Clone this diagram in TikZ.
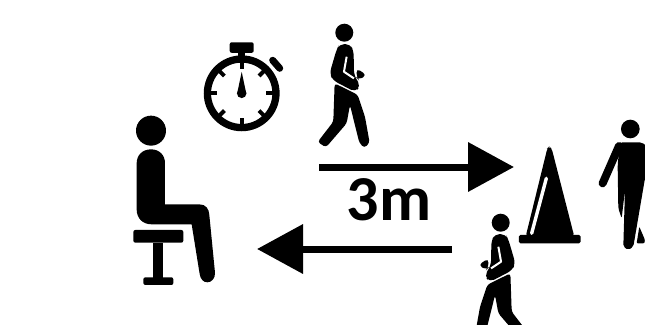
\documentclass[tikz,border=0pt]{standalone}
\usepackage{fontspec}
\setmainfont{Carlito}
\usepackage{tikz}
\usetikzlibrary{arrows.meta,positioning}
\tikzset{
  walker/.pic={
    \fill (0,0) circle (27);
    \fill[rounded corners=5pt] (-23,50) -- (-14,34) -- (18,34) -- (28,55) -- (29,127) -- (49,160) -- (33,178) -- (-34,143) -- (-44,122) -- cycle;
    \draw[white, line width=2pt, line join=round] (7,72) -- (-1,117) -- (29,137);
    \fill[rounded corners=4pt] (37,107) -- (67,127) -- (43,142) -- (37,135) -- cycle;
    \fill[rounded corners=3pt] (-29,152) -- (40,186) -- (62,252) -- (76,330) -- (60,346) -- (45,330) -- (17,217) -- (7,272) -- (-55,344) -- (-80,328) -- (-33,267) -- cycle;
  }
}
\begin{document}
\begin{tikzpicture}[
  x=1pt, y=-1pt,
  arr/.style={-{Triangle[length=46pt,width=48pt]}, line width=7pt},
  lbl/.style={font=\bfseries\fontsize{64}{64}\selectfont, inner sep=0pt},
  tick/.style={line width=4pt},
  figure/.style={x=0.3333pt, y=-0.3333pt}
]
\useasboundingbox (0,0) rectangle (645,324);
\node[lbl] (dist) at (389,200) {3m};
\coordinate (outa) at (319,167);
\coordinate (outb) at (514,167);
\coordinate (backa) at (452,249);
\coordinate (backb) at (257,249);
\coordinate (walkera) at (344.3,32.7);
\coordinate (walkerb) at (500.7,222.7);
\draw[arr] (outa) -- (outb);
\draw[arr] (backa) -- (backb);
\begin{scope}[shift={(120,110)}, figure]
\fill (93,62) circle (45);
\fill (50,160) .. controls (50,135) and (68,118) .. (93,118) .. controls (118,118) and (135,135) .. (135,160) -- (135,283) -- (238,283) .. controls (258,283) and (267,297) .. (268,315) -- (285,488) .. controls (286,505) and (275,517) .. (262,517) .. controls (250,517) and (241,507) .. (239,492) -- (215,343) -- (95,343) .. controls (68,343) and (50,325) .. (50,298) -- cycle;
\fill[rounded corners=2pt] (40,360) rectangle (190,398);
\fill (100,398) rectangle (130,505);
\fill[rounded corners=2pt] (70,502) rectangle (160,525);
\end{scope}
\begin{scope}[shift={(241.7,93.3)}]
\draw[line width=7.3pt] (0,0) circle (34.3);
\foreach \ang in {0,45,...,315}
  \draw[tick] (\ang:32) -- (\ang:24.5);
\fill (0,-21.5) -- (4.3,-1) -- (-4.3,-1) -- cycle;
\fill (0,0) circle (4.8);
\fill (-3.5,-42) rectangle (3.5,-36);
\fill[rounded corners=2pt] (-12,-51) rectangle (12,-40.5);
\draw[line width=7pt, line cap=round] (31,-33) -- (38,-25);
\end{scope}
\pic[figure] at (walkera) {walker};
\pic[figure, xscale=-1] at (walkerb) {walker};
\begin{scope}[shift={(440,110)}, figure]
\fill[rounded corners=1.5pt] (237,375) rectangle (422,400);
\fill[rounded corners=3pt] (327,110) -- (335,115) -- (403,380) -- (257,380) -- (322,115) -- cycle;
\draw[white, line width=3.4pt, line cap=round] (319,205) -- (275,370);
\fill (571,57) circle (28);
\fill[rounded corners=2pt] (540,97) -- (605,97) -- (625,112) -- (625,190) -- (615,205) -- (580,410) -- (565,420) -- (550,410) -- (555,240) -- (545,325) -- (535,295) -- (533,165) -- cycle;
\draw[line width=8pt, line cap=round] (537,108) -- (488,220);
\fill[rounded corners=1pt] (598,350) -- (615,390) -- (613,400) -- (590,400) -- cycle;
\end{scope}
\end{tikzpicture}
\end{document}
